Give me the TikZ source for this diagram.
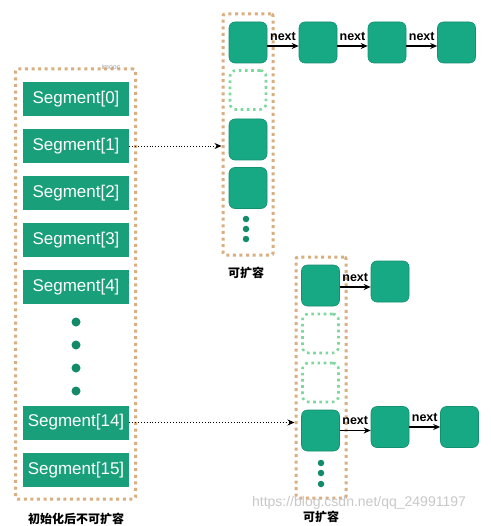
\documentclass[tikz,border=0pt]{standalone}
\usepackage{fontspec}
\setmainfont{Liberation Sans}
\newfontfamily\cjk{Noto Sans CJK SC}
\usetikzlibrary{arrows.meta}
\definecolor{segfill}{HTML}{1A9F7B}
\definecolor{cellfill}{HTML}{17A884}
\definecolor{celledge}{HTML}{12906F}
\definecolor{orangedot}{HTML}{D9AE80}
\definecolor{greendot}{HTML}{7DD8A0}
\definecolor{dotcol}{HTML}{138A6A}
\definecolor{wmark}{HTML}{C8C8C8}
\begin{document}
\begin{tikzpicture}[x=1pt,y=-1pt,
  seg/.style={fill=segfill, minimum width=106pt, minimum height=34pt, inner sep=0pt, text=white, font=\fontsize{17}{17}\selectfont},
  cell/.style={fill=cellfill, draw=celledge, line width=0.6pt, rounded corners=6pt, minimum width=38pt, minimum height=41pt, inner sep=0pt},
  emptycell/.style={draw=greendot, line width=2.6pt, dash pattern=on 2.6pt off 3.6pt, rounded corners=6pt, minimum width=36pt, minimum height=39pt, inner sep=0pt},
  container/.style={draw=orangedot, line width=3pt, dash pattern=on 3pt off 3.6pt, rounded corners=2pt, inner sep=0pt},
  bigdot/.style={circle, fill=dotcol, minimum size=9pt, inner sep=0pt},
  smalldot/.style={circle, fill=dotcol, minimum size=6.5pt, inner sep=0pt},
  nextarrow/.style={-{Stealth[length=7pt,width=6pt]}, line width=1.1pt, black},
  dotarrow/.style={-{Stealth[length=7pt,width=6pt]}, line width=0.9pt, black, dotted},
  nextlbl/.style={font=\bfseries\fontsize{12.5}{12.5}\selectfont, inner sep=0pt},
  cnlbl/.style={font=\cjk\bfseries\fontsize{12}{12}\selectfont, inner sep=0pt}
]
\useasboundingbox (0,0) rectangle (490,526);
\fill[white] (0,0) rectangle (490,526);

% left container
\node[container, minimum width=120pt, minimum height=430pt] (L) at (75.5,284) {};
\node[text=wmark!80!black, font=\fontsize{7}{7}\selectfont, inner sep=0pt] (imooc) at (111,67) {imooc};
\node[seg] (s0) at (76,99) {Segment[0]};
\node[seg] (s1) at (76,146) {Segment[1]};
\node[seg] (s2) at (76,193) {Segment[2]};
\node[seg] (s3) at (76,240) {Segment[3]};
\node[seg] (s4) at (76,287) {Segment[4]};
\node[bigdot] (d1) at (76,322) {};
\node[bigdot] (d2) at (76,345) {};
\node[bigdot] (d3) at (76,368) {};
\node[bigdot] (d4) at (76,391) {};
\node[seg] (s14) at (76,422.5) {Segment[14]};
\node[seg] (s15) at (76,470) {Segment[15]};
\node[cnlbl] (lblL) at (76,519) {初始化后不可扩容};

% top column
\node[container, minimum width=50pt, minimum height=241pt] (TC) at (248,134.5) {};
\node[cell] (t0) at (248,42.5) {};
\node[emptycell] (t1) at (248,90) {};
\node[cell] (t2) at (248,139.5) {};
\node[cell] (t3) at (248,188) {};
\node[smalldot] (td1) at (246,219) {};
\node[smalldot] (td2) at (246,229) {};
\node[smalldot] (td3) at (246,239) {};
\node[cnlbl] (lblT) at (246,273) {可扩容};

% top row
\node[cell] (r1) at (318,42.5) {};
\node[cell] (r2) at (387,42.5) {};
\node[cell] (r3) at (456.5,42.5) {};
\draw[nextarrow] ([yshift=-3.5pt]t0.east) -- ([yshift=-3.5pt]r1.west) node[nextlbl, midway, above=5pt] {next};
\draw[nextarrow] ([yshift=-3.5pt]r1.east) -- ([yshift=-3.5pt]r2.west) node[nextlbl, midway, above=5pt] {next};
\draw[nextarrow] ([yshift=-3.5pt]r2.east) -- ([yshift=-3.5pt]r3.west) node[nextlbl, midway, above=5pt] {next};

% bottom column
\node[container, minimum width=50pt, minimum height=241pt] (BC) at (321,377.5) {};
\node[cell] (b0) at (320.5,285.5) {};
\node[emptycell] (b1) at (320.5,333.5) {};
\node[emptycell] (b2) at (320.5,382.5) {};
\node[cell] (b3) at (320.5,430.5) {};
\node[smalldot] (bd1) at (321,463) {};
\node[smalldot] (bd2) at (321,473) {};
\node[smalldot] (bd3) at (321,484) {};
\node[cnlbl] (lblB) at (321,517) {可扩容};

% bottom rows
\node[cell] (u1) at (390,281.5) {};
\node[cell] (v1) at (390,427) {};
\node[cell] (v2) at (459.5,427) {};
\draw[nextarrow] ([yshift=-1.5pt]b0.east) -- ([yshift=-1.5pt]b0.east -| u1.west) node[nextlbl, midway, above=5pt] {next};
\draw[nextarrow] (b3.east) -- (b3.east -| v1.west) node[nextlbl, midway, above=5pt] {next};
\draw[nextarrow] (v1.east) -- (v2.west) node[nextlbl, midway, above=5pt] {next};

% dotted pointers
\draw[dotarrow] (s1.east) -- (s1.east -| TC.west);
\draw[dotarrow] (s14.east) -- (s14.east -| BC.west);

% watermark
\node[text=wmark, font=\fontsize{14}{14}\selectfont, inner sep=0pt] (wm) at (359,503) {https://blog.csdn.net/qq\_24991197};
\end{tikzpicture}
\end{document}
